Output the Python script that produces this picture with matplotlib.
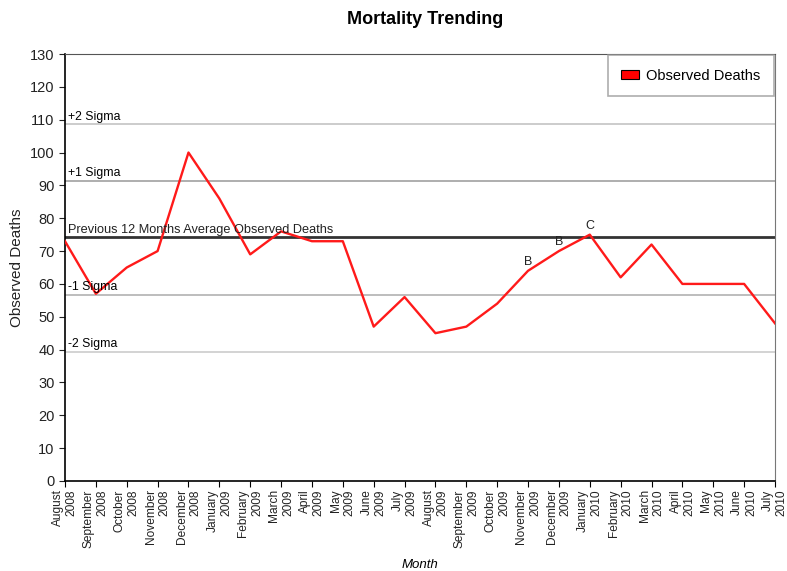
import numpy as np
import matplotlib
matplotlib.use('Agg')
import matplotlib.pyplot as plt
from matplotlib.patches import Rectangle

plt.rcParams['font.family'] = ['Liberation Sans', 'DejaVu Sans']

months = ['August\n2008', 'September\n2008', 'October\n2008', 'November\n2008', 'December\n2008',
          'January\n2009', 'February\n2009', 'March\n2009', 'April\n2009', 'May\n2009',
          'June\n2009', 'July\n2009', 'August\n2009', 'September\n2009', 'October\n2009',
          'November\n2009', 'December\n2009', 'January\n2010', 'February\n2010', 'March\n2010',
          'April\n2010', 'May\n2010', 'June\n2010', 'July\n2010']
deaths = [73, 57, 65, 70, 100, 86, 69, 76, 73, 73, 47, 56, 45, 47, 54, 64, 70, 75, 62, 72, 60, 60, 60, 48]

# control lines
sigma_names = ['+2 Sigma', '+1 Sigma', '-1 Sigma', '-2 Sigma']
sigma_levels = [108.6, 91.3, 56.6, 39.4]
avg_level = 74.2
avg_name = 'Previous 12 Months Average Observed Deaths'

# run-rule flags on points
flag_idx = [15, 16, 17]
flag_text = ['B', 'B', 'C']

fig = plt.figure(figsize=(7.87, 5.71), dpi=100)
ax = fig.add_axes([65 / 787, 90 / 571, 710 / 787, 427 / 571])

x = np.arange(len(months))
ax.set_xlim(0, len(months) - 1)
ax.set_ylim(0, 130)

sigma_colors = ['#c8c8c8', '#a8a8a8', '#b8b8b8', '#d0d0d0']
for name, lvl, col in zip(sigma_names, sigma_levels, sigma_colors):
  ax.axhline(lvl, color=col, lw=1.3, zorder=1)
  ax.text(0.1, lvl + 0.5, name, fontsize=8.8, va='bottom', ha='left', color='black', zorder=4)
ax.axhline(avg_level, color='#333333', lw=2, zorder=2)
ax.text(0.1, avg_level + 0.5, avg_name, fontsize=9.2, va='bottom', ha='left', color='#222222', zorder=4)

ax.plot(x, deaths, color='#ff1a1a', lw=1.7, zorder=3, label='Observed Deaths')

for i, t in zip(flag_idx, flag_text):
  ax.text(x[i], deaths[i] + 0.8, t, fontsize=9, ha='center', va='bottom', color='#222222', zorder=4)

ax.set_yticks(np.arange(0, 131, 10))
ax.tick_params(axis='y', labelsize=10.5, length=4, direction='out', colors='#222222')
ax.set_xticks(x)
ax.set_xticklabels(months, rotation=90, fontsize=8.6, ha='center', va='top', multialignment='right',
                   linespacing=1.2, color='#222222')
ax.tick_params(axis='x', length=4, direction='out', pad=2)

for side in ['left', 'bottom']:
  ax.spines[side].set_color('black')
  ax.spines[side].set_linewidth(1.2)
ax.spines['top'].set_color('#555555')
ax.spines['right'].set_color('#777777')

ax.set_ylabel('Observed Deaths', fontsize=11, color='#222222', labelpad=4)
fig.text(420 / 787, 1 - 565 / 571, 'Month', fontsize=9.5, style='italic', ha='center', va='center')
fig.text(425 / 787, 1 - 20 / 571, 'Mortality Trending', fontsize=13, weight='bold', ha='center', va='center')

leg = ax.legend(handles=[Rectangle((0, 0), 1, 1, facecolor='#ff0000', edgecolor='black', lw=0.8)],
                labels=['Observed Deaths'], loc='upper right', fontsize=10.5, frameon=True, fancybox=False,
                shadow=False, borderaxespad=0.05, handlelength=1.2, handleheight=0.55, borderpad=0.95,
                handletextpad=0.5)
leg.get_frame().set_edgecolor('#999999')
leg.get_frame().set_linewidth(1.2)

fig.savefig('out.png', dpi=100)
